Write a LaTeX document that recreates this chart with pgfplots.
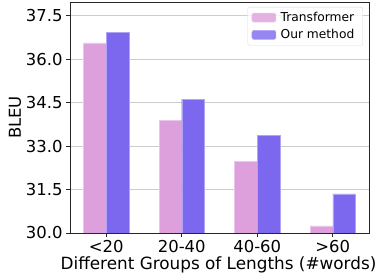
\documentclass[border=0pt]{standalone}
\usepackage{pgfplots}
\pgfplotsset{compat=1.18}
\usepackage{fontspec}
\setmainfont{DejaVu Sans}
\definecolor{plum}{HTML}{DDA0DD}
\definecolor{msb}{HTML}{7B68EE}
\begin{document}
\begin{tikzpicture}
\begin{axis}[
  at={(0,0)}, anchor=south west,
  scale only axis, width=299bp, height=231bp,
  xmin=-0.48, xmax=3.48, ymin=30, ymax=37.97,
  xtick={0,1,2,3}, xticklabels={{<20},{20-40},{40-60},{>60}},
  ytick={30,31.5,33,34.5,36,37.5},
  yticklabel style={/pgf/number format/.cd, fixed, fixed zerofill, precision=1},
  /pgf/number format/assume math mode=true,
  ymajorgrids, major grid style={black!20, line width=0.6bp},
  tick align=outside, tick pos=left,
  major tick length=4bp,
  axis line style={black!85, line width=0.7bp},
  tick style={black!85, line width=0.7bp},
  ylabel={BLEU}, xlabel={Different Groups of Lengths (\#words)},
  ylabel style={font=\fontsize{16.5}{18}\selectfont, yshift=-2bp},
  xlabel style={font=\fontsize{16.9}{19}\selectfont, yshift=3bp, xshift=-1bp},
  tick label style={font=\fontsize{16.5}{18}\selectfont},
  legend cell align=left,
  legend style={at={(1,1)}, anchor=north east, xshift=-6bp, yshift=-5bp,
    font=\fontsize{12.3}{14}\selectfont, draw=black!15, rounded corners=2bp,
    fill=white, fill opacity=0.8, text opacity=1, row sep=2.5bp,
    inner xsep=4bp, inner ysep=3bp,
    nodes={inner xsep=4.5bp}},
  legend image code/.code={\fill[#1] (0bp,-4.5bp) rectangle (24bp,4.5bp);},
]
\addplot[ybar, bar width=0.3, bar shift=-0.15, fill=plum, draw=plum!60!white, line width=0.4bp]
  coordinates {(0,36.56) (1,33.88) (2,32.48) (3,30.25)};
\addlegendentry{Transformer}
\addplot[ybar, bar width=0.3, bar shift=0.15, fill=msb, draw=msb!60!white, line width=0.4bp]
  coordinates {(0,36.93) (1,34.62) (2,33.38) (3,31.35)};
\addlegendentry{Our method}
\end{axis}
\pgfresetboundingbox
\path[use as bounding box] (-70bp,-43bp) rectangle (310bp,233bp);
\end{tikzpicture}
\end{document}
